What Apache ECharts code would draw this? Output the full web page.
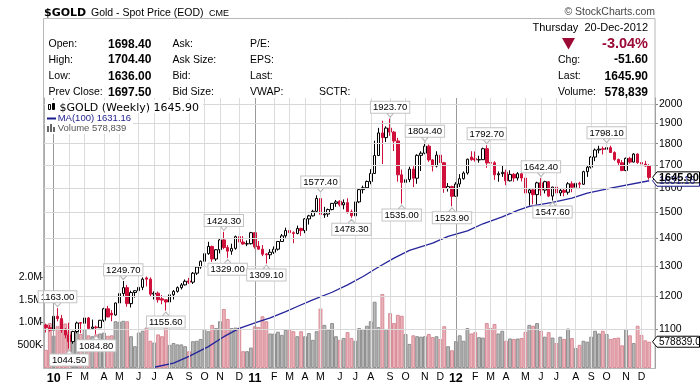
<!DOCTYPE html>
<html><head><meta charset="utf-8">
<script src="https://cdn.jsdelivr.net/npm/echarts@6/dist/echarts.min.js"></script>
<style>html,body{margin:0;padding:0;background:#fff}#c{width:700px;height:385px}</style>
</head><body><div id="c"></div>
<script>
// ---------- DATA ----------
const FIRST_WEEK = '2009-12-21';   // Monday of the first weekly bar
const OPEN = [1112,1104,1097,1138,1131,1097,1083,1064,1093,1119,1117,1133,1102,1106,1104,1126,1161,1147,1142,1179,
1209,1228,1177,1212,1218,1229,1260,1256,1207,1210,1192,1189,1182,1205,1216,1228,1237,1250,1246,1276,
1297,1317,1344,1370,1325,1358,1394,1366,1353,1363,1406,1386,1379,1380,1421,1371,1360,1343,1340,1349,
1360,1388,1409,1429,1421,1418,1437,1429,1474,1486,1504,1556,1490,1493,1511,1536,1545,1530,1539,1502,
1486,1542,1593,1601,1628,1663,1744,1852,1829,1876,1856,1813,1657,1624,1636,1682,1642,1745,1755,1788,
1724,1696,1746,1711,1598,1606,1565,1617,1640,1665,1737,1730,1724,1725,1776,1712,1711,1657,1662,1668,
1631,1659,1643,1662,1643,1579,1592,1572,1622,1591,1627,1566,1604,1579,1590,1582,1618,1603,1620,1616,
1671,1691,1737,1770,1776,1773,1781,1758,1726,1711,1676,1731,1714,1751,1712,1705,1696];
const HIGH = [1116,1112,1140,1163,1142,1103,1119,1095,1122,1120,1140,1136,1128,1110,1127,1164,1170,1157,1180,1215,
1249.7,1237,1218,1220,1254,1262,1265,1262,1216,1215,1204,1190,1212,1220,1232,1243,1255,1260,1280,1300,
1320,1349,1387,1373,1360,1398,1424.3,1375,1380,1410,1431,1408,1392,1424,1423,1390,1375,1346,1360,1370,
1390,1416,1440,1445,1426,1448,1440,1477,1490,1510,1569,1577.4,1522,1515,1537,1550,1549,1552,1557,1511,
1545,1595,1610,1632,1682,1814,1877,1913,1885,1923.7,1862,1828,1680,1675,1693,1695,1750,1764,1804.4,1796,
1727,1764,1763,1715,1621,1610,1625,1660,1672,1730,1764,1763,1743,1781,1792.7,1712,1718,1672,1697,1680,
1677,1665,1669,1677,1645,1600,1597,1627,1642.4,1631,1630,1605,1627,1600,1597,1625,1629,1625,1627,1675,
1696,1741,1777,1790,1786,1798.1,1790,1764,1730,1723,1735,1738,1755,1754,1724,1720,1704.4];
const LOW = [1090,1093,1095,1123,1089,1073,1044.5,1058,1088,1088,1114,1100,1102,1084.8,1104,1121,1135,1123,1140,1160,
1200,1167,1165,1196,1215,1220,1232,1199,1190,1180,1175,1155.6,1180,1190,1212,1222,1235,1240,1240,1270,
1291,1313,1340,1315,1318,1345,1360,1329,1340,1358,1380,1376,1371,1377,1362,1360,1335,1309.1,1325,1343,
1355,1388,1402,1409,1382,1415,1409,1419,1452,1483,1499,1462,1478,1482,1508,1522,1523,1512,1495,1478.3,
1480,1537,1577,1598,1616,1663,1743,1705,1808,1838,1765,1627,1535,1600,1625,1604,1618,1674,1750,1715,
1672,1690,1701,1580,1585,1523.9,1565,1604,1636,1658,1720,1716,1711,1724,1688,1663,1635,1627,1648,1612,
1628,1627,1632,1628,1577,1527,1532,1532,1567,1577,1562,1547.6,1575,1566,1565,1572,1582,1600,1598,1613,
1648,1685,1718,1754,1749,1765,1756,1720,1701,1673,1673,1707,1713,1706,1683,1693,1636];
const CLOSE = [1104,1097,1138,1131,1097,1083,1064,1093,1118,1117,1133,1102,1106,1104,1126,1161,1136,1142,1179,1209,
1228,1177,1212,1218,1229,1256,1256,1207,1210,1189,1188,1182,1205,1216,1228,1237,1249,1246,1276,1297,
1317,1344,1370,1325,1358,1394,1366,1353,1363,1406,1386,1379,1380,1421,1369,1360,1342,1340,1349,1360,
1388,1409,1429,1421,1418,1437,1429,1474,1486,1504,1556,1492,1493,1511,1536,1542,1530,1539,1502,1486,
1542,1593,1601,1628,1663,1744,1852,1829,1876,1856,1813,1657,1624,1636,1682,1642,1745,1755,1788,1724,
1696,1746,1711,1598,1606,1565,1617,1640,1665,1727,1725,1724,1725,1776,1710,1709,1657,1662,1668,1631,
1659,1643,1662,1643,1579,1592,1572,1622,1591,1627,1566,1604,1579,1590,1582,1618,1603,1620,1616,1671,
1691,1737,1770,1774,1773,1781,1758,1726,1711,1676,1731,1714,1751,1712,1705,1696,1645.9];
// weekly volume, millions
const VOLUME = [0.40,0.99,0.71,0.92,1.06,0.98,0.81,0.78,0.82,0.75,0.85,0.72,0.70,0.74,0.76,0.78,0.71,0.72,1.03,1.02,
1.04,1.03,0.70,0.48,0.78,0.82,0.89,0.60,0.56,0.74,0.70,0.92,0.51,0.55,0.52,0.52,0.48,0.37,0.59,0.60,
0.64,0.86,0.81,0.95,0.88,1.03,1.30,1.08,0.88,0.89,0.89,0.37,0.37,0.45,0.92,0.90,1.14,1.03,0.76,0.76,
0.80,0.73,0.84,0.84,0.81,0.70,0.81,0.70,0.77,0.62,0.81,1.31,0.95,0.84,0.99,0.70,0.62,0.66,0.79,0.66,
0.60,0.88,0.86,0.93,1.03,1.46,0.90,1.63,0.86,1.21,0.99,1.17,1.15,0.75,0.53,0.72,0.70,0.69,0.70,0.75,
0.68,0.70,0.64,0.92,0.48,0.39,0.59,0.72,0.60,0.88,0.76,0.79,0.68,0.67,0.99,0.88,0.97,0.76,0.82,0.60,
0.65,0.64,0.65,0.66,0.80,0.95,0.93,0.99,0.82,0.69,0.79,0.67,0.55,0.69,0.64,0.87,0.66,0.44,0.51,0.60,
0.58,0.69,0.82,0.76,0.82,0.75,0.64,0.66,0.67,0.50,0.86,0.72,0.55,0.93,0.73,0.61,0.578839];
// 100-week moving average, read at sample weeks
const MA_WEEK  = [28,33,37,42,46,50,55,58,62,65,69,74,78,82,86,90,94,100,104,109,113,118,122,125,131,136,140,147,156];
const MA_VALUE = [994,1005,1023,1050,1078,1102,1122,1133,1152,1168,1189,1213,1237,1265,1297,1328,1356,1382,1407,1428,1455,1482,1508,1524,1540,1558,1578,1603,1631.16];
const PRICE_TICKS = [1100,1200,1300,1400,1500,1600,1700,1800,1900,2000];
const VOLUME_TICKS = [0.5,1.0,1.5,2.0];
const ANNOT_WEEK  = [3,6,13,20,31,46,47,57,71,79,89,92,98,105,114,128,131,145];
const ANNOT_VALUE = [1163.00,1044.50,1084.80,1249.70,1155.60,1424.30,1329.00,1309.10,1577.40,1478.30,1923.70,1535.00,1804.40,1523.90,1792.70,1642.40,1547.60,1798.10];
const ANNOT_SIDE  = ['H','L','L','H','L','H','L','L','H','L','H','L','H','L','H','H','L','H'];
const MONTH_LETTERS = ['J','F','M','A','M','J','J','A','S','O','N','D'];
const INFO_LABELS_1 = ['Open:','High:','Low:','Prev Close:'];
const INFO_VALUES_1 = ['1698.40','1704.40','1636.00','1697.50'];
const INFO_LABELS_2 = ['Ask:','Ask Size:','Bid:','Bid Size:'];
const INFO_LABELS_3 = ['P/E:','EPS:','Last:','VWAP:'];
const INFO_LABELS_4 = ['','','','SCTR:'];
const QUOTE_DAY = 'Thursday  20-Dec-2012';
const QUOTE_PCT = '-3.04%';
const QUOTE_LABELS = ['Chg:','Last:','Volume:'];
const QUOTE_VALUES = ['-51.60','1645.90','578,839'];
const SYMBOL = '$GOLD', SYMBOL_NAME = 'Gold - Spot Price (EOD)', EXCHANGE = 'CME';

// ---------- BUILD ----------
const F = '"Liberation Sans", Arial, sans-serif';
const FD = '"DejaVu Sans", Verdana, sans-serif';
const RED = '#d0103a';
const n = CLOSE.length;
const start = new Date(FIRST_WEEK + 'T00:00:00Z');
const weekDate = i => new Date(start.getTime() + i * 7 * 86400000);
const CATS = [];
for (let i = 0; i <= n; i++) CATS.push(weekDate(i).toISOString().slice(0, 10));
const monthStart = new Set();
for (let i = 1; i < n; i++) if (weekDate(i).getUTCMonth() !== weekDate(i - 1).getUTCMonth()) monthStart.add(i);

const candleData = CLOSE.map((c, i) => [OPEN[i], c, LOW[i], HIGH[i]]);
const volData = VOLUME.map((v, i) => ({
  value: v,
  itemStyle: CLOSE[i] < OPEN[i]
    ? { color: 'rgba(230,165,174,0.85)', borderColor: '#d88a95', borderWidth: 1 }
    : { color: 'rgba(176,176,176,0.9)', borderColor: '#8e8e8e', borderWidth: 1 }
}));
const maData = MA_WEEK.map((w, k) => [CATS[w], MA_VALUE[k]]);

const vLines = [...monthStart].map(i => ({
  xAxis: CATS[i],
  lineStyle: { color: weekDate(i).getUTCMonth() === 0 ? '#9a9a9a' : '#dcdcdc', width: 1, type: 'solid' }
}));
const hLines = PRICE_TICKS.map(v => ({ yAxis: v, lineStyle: { color: '#d8d8d8', width: 1, type: 'solid' } }));

const annots = ANNOT_WEEK.map((w, k) => {
  const hi = ANNOT_SIDE[k] === 'H';
  return {
    coord: [CATS[w], ANNOT_VALUE[k]],
    value: ANNOT_VALUE[k],
    symbolRotate: hi ? 180 : 0,
    symbolOffset: [0, hi ? -3.5 : 3.5],
    label: { position: hi ? 'top' : 'bottom' }
  };
});

const chart = echarts.init(document.getElementById('c'), null, { renderer: 'canvas', width: 700, height: 385 });
chart.setOption({
  animation: false,
  backgroundColor: '#fff',
  grid: { left: 44, right: 45, top: 98, bottom: 17 },
  xAxis: [{
    type: 'category', data: CATS, boundaryGap: true,
    axisLine: { show: true, lineStyle: { color: '#999' } },
    axisTick: { show: false },
    splitLine: { show: false },
    axisLabel: {
      interval: (idx) => monthStart.has(idx),
      margin: 4,
      formatter: (val) => {
        const d = new Date(val + 'T00:00:00Z');
        const m = d.getUTCMonth();
        return m === 0 ? '{y|' + String(d.getUTCFullYear()).slice(2) + '}' : '{m|' + MONTH_LETTERS[m] + '}';
      },
      rich: {
        y: { fontFamily: F, fontWeight: 'bold', fontSize: 12.5, color: '#000' },
        m: { fontFamily: F, fontSize: 10.5, color: '#000' }
      }
    }
  }],
  yAxis: [{
    type: 'log', logBase: 10, position: 'right', min: 992, max: 2032,
    axisLine: { show: true, lineStyle: { color: '#888' } },
    axisTick: { show: true, length: 3, customValues: PRICE_TICKS, lineStyle: { color: '#888' } },
    axisLabel: { customValues: PRICE_TICKS, fontFamily: F, fontSize: 10.5, color: '#000', margin: 4,
      formatter: v => String(Math.round(v)) },
    splitLine: { show: false }
  }, {
    type: 'value', position: 'left', min: 0, max: 5.947,
    axisLine: { show: true, lineStyle: { color: '#aaa' } },
    axisTick: { show: true, length: 3, customValues: VOLUME_TICKS, lineStyle: { color: '#666' } },
    axisLabel: {
      customValues: VOLUME_TICKS, fontFamily: F, fontSize: 10.5, color: '#000', margin: 2,
      formatter: v => v < 1 ? Math.round(v * 1000) + 'K' : v.toFixed(1) + 'M'
    },
    splitLine: { show: false }
  }],
  series: [{
    name: 'grid', type: 'line', xAxisIndex: 0, yAxisIndex: 0, z: 1, silent: true,
    data: CLOSE.map(() => null), showSymbol: false,
    markLine: { silent: true, symbol: ['none', 'none'], label: { show: false }, animation: false,
      emphasis: { disabled: true }, data: vLines.concat(hLines) }
  }, {
    name: 'Volume', type: 'bar', xAxisIndex: 0, yAxisIndex: 1, z: 2, silent: true,
    barCategoryGap: '0%', data: volData
  }, {
    name: 'MA(100)', type: 'line', xAxisIndex: 0, yAxisIndex: 0, z: 3, silent: true,
    data: maData, showSymbol: false, lineStyle: { color: '#24249c', width: 1.3 }
  }, {
    name: '$GOLD', type: 'candlestick', xAxisIndex: 0, yAxisIndex: 0, z: 4, silent: true,
    barWidth: 3, data: candleData,
    itemStyle: { color: '#ffffff', color0: RED, borderColor: '#000', borderColor0: RED, borderWidth: 1 },
    markPoint: {
      silent: true, animation: false,
      symbol: 'triangle', symbolSize: [7, 4],
      itemStyle: { color: '#fff', borderColor: '#b8b8b8', borderWidth: 1 },
      label: {
        show: true, distance: 0, formatter: p => Number(p.value).toFixed(2),
        fontFamily: F, fontSize: 9.5, color: '#000', backgroundColor: '#fff',
        borderColor: '#c4c4c4', borderWidth: 1, padding: [1, 2, 0, 2]
      },
      data: annots
    }
  }]
});

// ---------- GRAPHICS ----------
const T = (x, y, text, font, fill, align) => ({ type: 'text', x, y, silent: true, z: 100,
  style: { text, font, fill: fill || '#000', align: align || 'left', verticalAlign: 'middle' } });
const g = [];
g.push({ type: 'rect', silent: true, z: 90, shape: { x: 43.5, y: 18.5, width: 611.5, height: 350 },
  style: { fill: 'none', stroke: '#b8b8b8', lineWidth: 1 } });
g.push(T(44, 13, SYMBOL, 'bold 11px ' + FD));
g.push(T(91, 13, SYMBOL_NAME, '10.5px ' + F));
g.push(T(209, 13.5, EXCHANGE, '9px ' + F));
g.push(T(655, 12, '\u00a9 StockCharts.com', '10.5px ' + F, '#444', 'right'));
const rowY = [44.3, 60, 76.5, 92.3];
rowY.forEach((y, r) => {
  g.push(T(48.5, y, INFO_LABELS_1[r], '10.5px ' + F));
  g.push(T(108, y, INFO_VALUES_1[r], 'bold 12px ' + F));
  g.push(T(172.5, y, INFO_LABELS_2[r], '10.5px ' + F));
  g.push(T(250, y, INFO_LABELS_3[r], '10.5px ' + F));
  if (INFO_LABELS_4[r]) g.push(T(319, y, INFO_LABELS_4[r], '10.5px ' + F));
});
g.push(T(648, 28.3, QUOTE_DAY, '11px ' + F, '#000', 'right'));
g.push({ type: 'polygon', silent: true, z: 100, shape: { points: [[562, 38], [575, 38], [568.5, 49.5]] }, style: { fill: '#9b0a35' } });
g.push(T(648, 44, QUOTE_PCT, 'bold 14.5px ' + F, '#9b0a35', 'right'));
QUOTE_LABELS.forEach((l, k) => {
  g.push(T(558, rowY[k + 1], l, '10.5px ' + F));
  g.push(T(648, rowY[k + 1], QUOTE_VALUES[k], 'bold 12px ' + F, '#000', 'right'));
});
// legend
const lastClose = CLOSE[n - 1], lastMA = MA_VALUE[MA_VALUE.length - 1], lastVol = VOLUME[n - 1];
g.push({ type: 'rect', silent: true, z: 95, shape: { x: 45, y: 100, width: 158, height: 13 }, style: { fill: '#fff' } });
g.push({ type: 'rect', silent: true, z: 95, shape: { x: 45, y: 113, width: 88, height: 21 }, style: { fill: '#fff' } });
g.push({ type: 'rect', silent: true, z: 100, shape: { x: 48.5, y: 104.5, width: 2, height: 5 }, style: { fill: '#fff', stroke: '#000', lineWidth: 1 } });
g.push({ type: 'rect', silent: true, z: 100, shape: { x: 52.5, y: 103.5, width: 2, height: 6 }, style: { fill: '#000', stroke: '#000', lineWidth: 1 } });
g.push(T(59.5, 108, SYMBOL + ' (Weekly) ' + lastClose.toFixed(2), '11px ' + FD));
g.push({ type: 'line', silent: true, z: 100, shape: { x1: 47, y1: 118.5, x2: 56, y2: 118.5 }, style: { stroke: '#1c1c8c', lineWidth: 2 } });
g.push(T(57.7, 118.5, 'MA(100) ' + lastMA.toFixed(2), '9.5px ' + F, '#1c1c8c'));
[[47, 126], [50, 124], [53, 127]].forEach(([x, y]) => g.push({ type: 'rect', silent: true, z: 100,
  shape: { x, y, width: 2, height: 132 - y }, style: { fill: '#666' } }));
g.push(T(57.7, 128.5, 'Volume ' + Math.round(lastVol * 1e6).toLocaleString('en-US'), '9.5px ' + F, '#555'));

// right-hand value tags via the axes' own scales
const yMA = chart.convertToPixel({ yAxisIndex: 0 }, lastMA);
const yC = chart.convertToPixel({ yAxisIndex: 0 }, lastClose);
const yV = chart.convertToPixel({ yAxisIndex: 1 }, lastVol);
const tag = (y, text, font, stroke, fill) => {
  g.push({ type: 'polygon', silent: true, z: 110, shape: { points: [[652.5, y], [657, y - 5.5], [699.5, y - 5.5], [699.5, y + 5.5], [657, y + 5.5]] },
    style: { fill: '#fff', stroke, lineWidth: 1 } });
  g.push(Object.assign(T(659, y + 0.5, text, font, fill), { z: 111 }));
};
tag(yMA, lastMA.toFixed(2), '10px ' + F, '#1c1c8c', '#1c1c8c');
tag(yV, Math.round(lastVol * 1e6) + '.0', '10px ' + F, '#000', '#000');
tag(yC, lastClose.toFixed(2), 'bold 11px ' + F, '#000', '#000');
chart.setOption({ graphic: { elements: g } });
</script></body></html>
